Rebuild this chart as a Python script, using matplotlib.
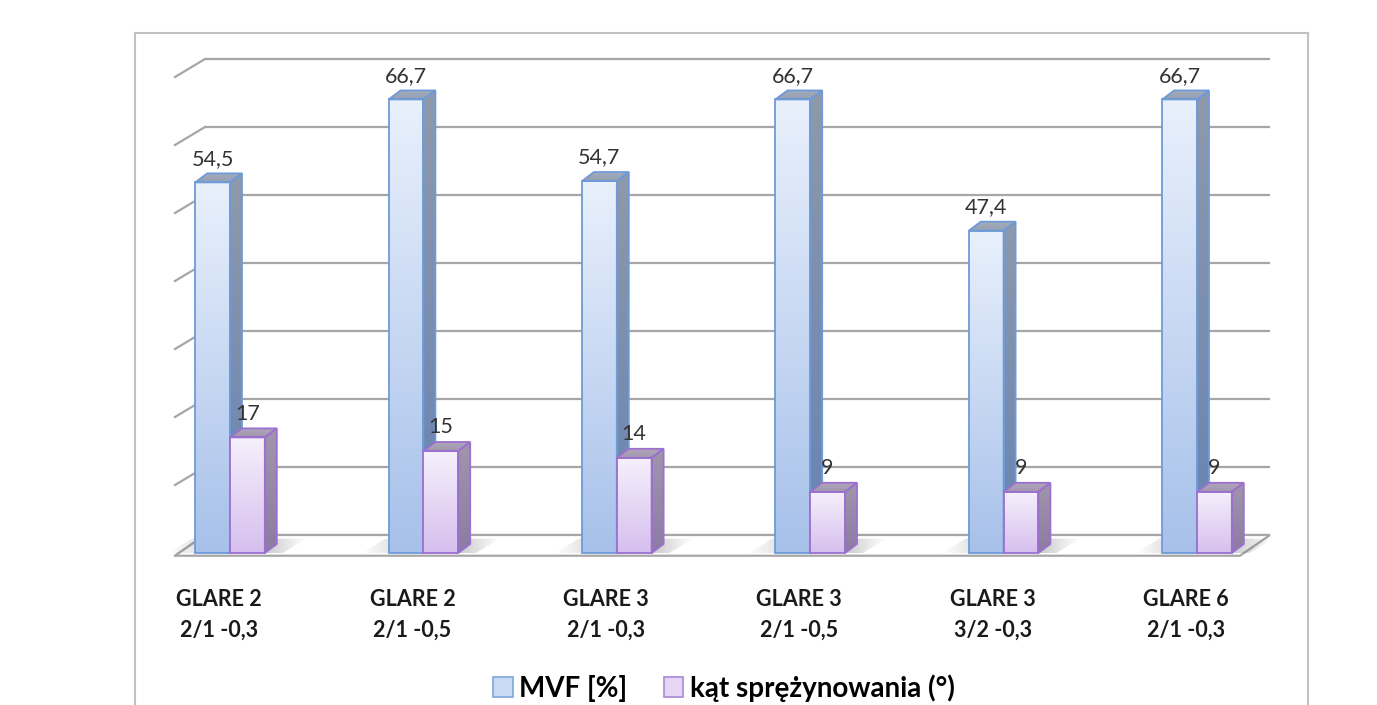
import numpy as np
import matplotlib
matplotlib.use("Agg")
import matplotlib.pyplot as plt
from matplotlib.patches import Polygon, Patch
from matplotlib.colors import to_rgb

# ---- data ----
categories = [("GLARE 2", "2/1 -0,3"), ("GLARE 2", "2/1 -0,5"), ("GLARE 3", "2/1 -0,3"),
              ("GLARE 3", "2/1 -0,5"), ("GLARE 3", "3/2 -0,3"), ("GLARE 6", "2/1 -0,3")]
mvf = [54.5, 66.7, 54.7, 66.7, 47.4, 66.7]
kat = [17, 15, 14, 9, 9, 9]
series_names = ["MVF [%]", "kąt sprężynowania (°)"]
grid_vals = [0, 10, 20, 30, 40, 50, 60, 70]

plt.rcParams['font.family'] = ['Lato', 'DejaVu Sans']

W, H = 1377, 705
fig = plt.figure(figsize=(W / 100, H / 100), dpi=100)
ax = fig.add_axes([135 / W, 0, (1308 - 135) / W, (705 - 33) / H])

PX_X = 193.4   # px per category
PX_Y = 6.8     # px per unit
x0, x1 = (135 - 230) / PX_X, (1308 - 230) / PX_X
y0, y1 = (553 - 705) / PX_Y, (553 - 33) / PX_Y

# geometry (data units)
bw = 0.18
wdx, wdy = 30 / PX_X, 18 / PX_Y         # wall depth offset
bdx, bdy = 12 / PX_X, 9 / PX_Y          # bar depth offset
xfl = (175 - 230) / PX_X
xfr = (1240 - 230) / PX_X
yfloor = -0.4

gcol = "#a6a6a6"
# back wall gridlines and left wall ticks
for g in grid_vals:
    yb = g + wdy
    ax.plot([xfl + wdx, xfr + wdx], [yb, yb], color=gcol, lw=1.6, zorder=1, solid_capstyle='butt')
    ax.plot([xfl, xfl + wdx], [g + yfloor * (g == 0), yb], color=gcol, lw=1.6, zorder=1)
# floor
floor = Polygon([[xfl, yfloor], [xfr, yfloor], [xfr + wdx, wdy], [xfl + wdx, wdy]],
                closed=True, facecolor="white", edgecolor=gcol, lw=1.6, zorder=1.5)
ax.add_patch(floor)


def grad_face(verts, c_top, c_bot, z, edge, lw=1.3):
    verts = np.array(verts)
    poly = Polygon(verts, closed=True, facecolor='none', edgecolor=edge, lw=lw, zorder=z + 0.1)
    ax.add_patch(poly)
    ct, cb = np.array(to_rgb(c_top)), np.array(to_rgb(c_bot))
    t = np.linspace(0, 1, 64)[:, None]
    img = (ct * (1 - t) + cb * t)[:, None, :]
    im = ax.imshow(img, extent=[verts[:, 0].min(), verts[:, 0].max(),
                                verts[:, 1].min(), verts[:, 1].max()],
                   origin='upper', aspect='auto', zorder=z, interpolation='bilinear')
    clip = Polygon(verts, closed=True, transform=ax.transData)
    im.set_clip_path(clip)


def shadow(xl, xr, z):
    verts = np.array([[xl - 0.14, 0], [xr + 0.03, 0], [xr + 0.03 + wdx * 0.8, wdy * 0.8],
                      [xl - 0.14 + wdx * 0.8, wdy * 0.8]])
    n = 100
    s = np.linspace(0, 1, n)
    a = np.clip(np.minimum(s / 0.4, (1 - s) / 0.3), 0, 1) * 0.35
    img = np.zeros((2, n, 4))
    img[..., :3] = 0.4
    img[..., 3] = a
    im = ax.imshow(img, extent=[verts[:, 0].min(), verts[:, 0].max(), 0, wdy * 0.8],
                   aspect='auto', zorder=z, interpolation='bilinear')
    im.set_clip_path(Polygon(verts, closed=True, transform=ax.transData))


def bar3d(xl, v, front, side, top, edge, z):
    xr = xl + bw
    grad_face([[xl, 0], [xr, 0], [xr, v], [xl, v]], front[0], front[1], z, edge)
    grad_face([[xr, 0], [xr + bdx, bdy], [xr + bdx, v + bdy], [xr, v]], side[0], side[1], z, edge)
    grad_face([[xl, v], [xr, v], [xr + bdx, v + bdy], [xl + bdx, v + bdy]], top[0], top[1], z, edge)


for i, (a, b) in enumerate(zip(mvf, kat)):
    shadow(i - bw, i + bw + bdx, 1.8)
    bar3d(i - bw, a, ("#e9f0fc", "#a7c1ea"), ("#8f99aa", "#6683b3"), ("#a3acbb", "#95a0b2"),
          "#6e9bd8", 3)
    bar3d(i, b, ("#f6f0fc", "#d6bfee"), ("#a096ac", "#8c7ba3"), ("#b0a6ba", "#a197ae"),
          "#9b70cf", 4)
    ax.text(i - bw / 2, a + 3.5, f"{a:.1f}".replace(".", ","), ha='center', va='center',
            fontsize=15.5, color="#333333", zorder=6)
    ax.text(i + bw / 2, b + 3.5, f"{b:g}".replace(".", ","), ha='center', va='center',
            fontsize=15.5, color="#333333", zorder=6)
    ax.text(i - 0.057, (553 - 599.5) / PX_Y, categories[i][0], ha='center', va='center',
            fontsize=15.5, fontweight='bold', color="#1a1a1a")
    ax.text(i - 0.057, (553 - 630) / PX_Y, categories[i][1], ha='center', va='center',
            fontsize=15.5, fontweight='bold', color="#1a1a1a")

handles = [Patch(facecolor="#c9daf4", edgecolor="#7ea6dc", lw=1.2, label=series_names[0]),
           Patch(facecolor="#e6d6f5", edgecolor="#a888d6", lw=1.2, label=series_names[1])]
ax.legend(handles=handles, loc='center', bbox_to_anchor=((724 - 135) / 1173, (705 - 688) / 672),
          ncol=2, frameon=False, prop={'size': 20, 'weight': 'bold'}, handlelength=0.7,
          handleheight=0.7, columnspacing=1.3, handletextpad=0.25, borderpad=0)

ax.set_xlim(x0, x1)
ax.set_ylim(y0, y1)
ax.set_xticks([])
ax.set_yticks([])
for s in ['left', 'top', 'right']:
    ax.spines[s].set_color("#c0c0c0")
    ax.spines[s].set_linewidth(1.5)
ax.spines['bottom'].set_visible(False)

fig.savefig("out.png", dpi=100)
